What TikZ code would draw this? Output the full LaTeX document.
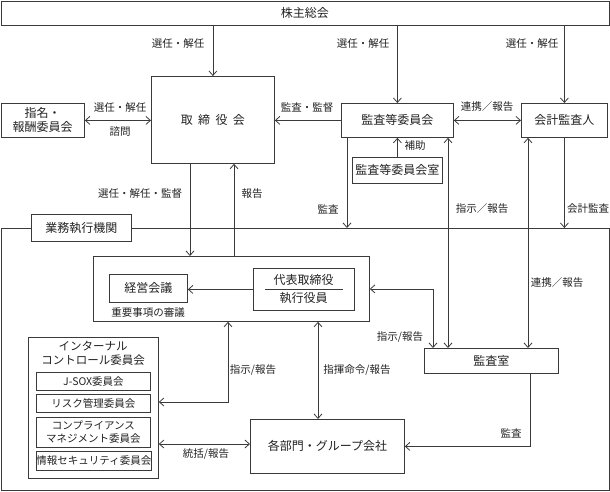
\documentclass[tikz,border=0pt]{standalone}
\usepackage{fontspec}
\setmainfont{Noto Sans CJK JP}
\usetikzlibrary{arrows.meta}
\definecolor{linec}{HTML}{3A3A3A}
\definecolor{textc}{HTML}{222222}
\tikzset{
 box/.style={draw=linec, line width=0.8pt, inner sep=0pt, anchor=north west, align=center,
   text=textc, font=\fontsize{12}{14}\selectfont},
 sbox/.style={box, font=\fontsize{10.5}{13}\selectfont},
 lab/.style={inner sep=0pt, text=textc, font=\fontsize{10.5}{12}\selectfont},
 ln/.style={draw=linec, line width=0.8pt},
 arr/.style={ln, -{Straight Barb[length=4.5pt,width=8pt]}},
 darr/.style={ln, {Straight Barb[length=4.5pt,width=8pt]}-{Straight Barb[length=4.5pt,width=8pt]}}
}
\begin{document}
\begin{tikzpicture}[x=1pt,y=-1pt]
\useasboundingbox (0,0) rectangle (610,491);
% column / row helpers
\coordinate (x190) at (190,0);
\coordinate (x228) at (228,0);
\coordinate (x234) at (234,0);
\coordinate (x318) at (318,0);
\coordinate (x347) at (347,0);
\coordinate (x433) at (433,0);
\coordinate (x448) at (448,0);
\coordinate (x528) at (528,0);
\coordinate (x530) at (530,0);
\coordinate (y402) at (0,402);
\coordinate (y444) at (0,444);

% boxes
\node[box, minimum width=608pt, minimum height=24pt] (gm) at (0.5,0.5) {株主総会};
\node[box, minimum width=123pt, minimum height=87pt] (tori) at (151,76)
  {取\hspace{0.45em}締\hspace{0.45em}役\hspace{0.45em}会};
\node[box, minimum width=83.5pt, minimum height=34pt] (shimei) at (0.5,103) {指名・\\報酬委員会};
\node[box, minimum width=112pt, minimum height=34pt] (kansa) at (341,103) {監査等委員会};
\node[box, minimum width=86pt, minimum height=34pt] (kaikei) at (521,103) {会計監査人};
\node[box, minimum width=90pt, minimum height=26pt] (shitsu) at (352,157) {監査等委員会室};

\node[box, minimum width=608pt, minimum height=261.5pt] (frame) at (0.5,228) {};
\node[box, fill=white, minimum width=100pt, minimum height=27pt] (gyomu) at (31,214) {業務執行機関};

\node[box, minimum width=276pt, minimum height=65pt] (mgmt) at (93,256) {};
\node[box, minimum width=78pt, minimum height=28pt] (keiei) at (109,274) {経営会議};
\node[box, minimum width=101pt, minimum height=42pt] (daihyo) at (253,268) {};
\node[lab, font=\fontsize{12}{14}\selectfont] (daihyoA) at (303.5,280) {代表取締役};
\node[lab, font=\fontsize{12}{14}\selectfont] (daihyoB) at (303.5,298) {執行役員};
\draw[ln] ([xshift=-39pt]daihyo.center) -- ([xshift=39pt]daihyo.center);

\node[box, minimum width=134pt, minimum height=25pt] (kansashitsu) at (424,348) {監査室};
\node[box, minimum width=154pt, minimum height=54pt] (bumon) at (250,419) {各部門・グループ会社};

\node[box, minimum width=130pt, minimum height=141pt] (ic) at (28,337) {};
\node[lab, align=center, font=\fontsize{11.5}{14}\selectfont] (ictitle) at (93,353) {インターナル\\コントロール委員会};
\node[sbox, minimum width=114pt, minimum height=18pt] (jsox) at (36,372) {J-SOX委員会};
\node[sbox, minimum width=114pt, minimum height=18pt] (risk) at (36,394) {リスク管理委員会};
\node[sbox, minimum width=114pt, minimum height=30pt] (comp) at (36,417) {コンプライアンス\\マネジメント委員会};
\node[sbox, minimum width=114pt, minimum height=19pt] (info) at (36,451) {情報セキュリティ委員会};

% connectors
\draw[arr] (gm.south -| tori.north) -- (tori.north);
\draw[arr] (gm.south -| kansa.north) -- (kansa.north);
\draw[arr] (gm.south -| kaikei.north) -- (kaikei.north);
\draw[darr] (shimei.east) -- (shimei.east -| tori.west);
\draw[arr] (kansa.west) -- (kansa.west -| tori.east);
\draw[darr] (kansa.east) -- (kaikei.west);
\draw[arr] (shitsu.north) -- (kansa.south);
\draw[arr] (kansa.south -| x347) -- (frame.north -| x347);
\draw[darr] (kansa.south -| x448) -- (kansashitsu.north -| x448);
\draw[darr] (kaikei.south -| x528) -- (kansashitsu.north -| x528);
\draw[arr] (kaikei.south) -- (frame.north -| kaikei.south);
\draw[arr] (tori.south -| x190) -- (mgmt.north -| x190);
\draw[arr] (mgmt.north -| x234) -- (tori.south -| x234);
\draw[arr] (daihyo.west) -- (daihyo.west -| keiei.east);
\draw[darr] (mgmt.east) -| (kansashitsu.north -| x433);
\draw[darr] (mgmt.south -| x318) -- (bumon.north -| x318);
\draw[darr] (mgmt.south -| x228) |- (ic.east |- y402);
\draw[darr] (ic.east |- y444) -- (bumon.west |- y444);
\draw[arr] (kansashitsu.south -| x530) |- (bumon.east);

% labels
\node[lab] (l1) at (178,44) {選任・解任};
\node[lab] (l2) at (363,44) {選任・解任};
\node[lab] (l3) at (532,44) {選任・解任};
\node[lab] (l4) at (120,108) {選任・解任};
\node[lab] (l5) at (120,132) {諮問};
\node[lab] (l6) at (307,108) {監査・監督};
\node[lab] (l7) at (487,107) {連携／報告};
\node[lab] (l8) at (415,146) {補助};
\node[lab] (l9) at (328,209) {監査};
\node[lab] (l10) at (482,209) {指示／報告};
\node[lab] (l11) at (588,209) {会計監査};
\node[lab] (l12) at (140,194) {選任・解任・監督};
\node[lab] (l13) at (252,194) {報告};
\node[lab] (l14) at (148,313) {重要事項の審議};
\node[lab] (l15) at (557,283) {連携／報告};
\node[lab] (l16) at (400,337) {指示/報告};
\node[lab] (l17) at (253,370) {指示/報告};
\node[lab] (l18) at (357,370) {指揮命令/報告};
\node[lab] (l19) at (206,454) {統括/報告};
\node[lab] (l20) at (511,433) {監査};
\end{tikzpicture}
\end{document}
